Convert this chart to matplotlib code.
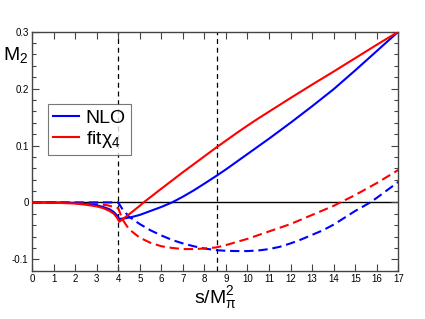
import matplotlib
matplotlib.use("Agg")
import matplotlib.pyplot as plt
from matplotlib.ticker import MultipleLocator

plt.rcParams['font.family'] = ['Liberation Sans', 'DejaVu Sans']
plt.rcParams['mathtext.fontset'] = 'custom'
plt.rcParams['mathtext.rm'] = 'Liberation Sans'
plt.rcParams['mathtext.it'] = 'Liberation Sans'

# NLO solid
s_nlo = [0, 1, 2, 2.5, 3, 3.3, 3.6, 3.8, 3.95, 4.05, 4.3, 4.6, 5, 5.5, 6, 6.5, 7, 7.5, 8, 8.57, 9, 10, 11, 12, 13, 14, 15, 16, 17]
m_nlo = [0, 0, -0.001, -0.003, -0.005, -0.008, -0.012, -0.017, -0.023, -0.029, -0.028, -0.026, -0.022, -0.015, -0.008, 0, 0.01, 0.021, 0.033, 0.047, 0.058, 0.085, 0.112, 0.140, 0.169, 0.199, 0.232, 0.266, 0.3]
# fit chi4 solid
s_fit = [0, 1, 2, 2.5, 3, 3.3, 3.6, 3.8, 3.95, 4.05, 4.5, 5, 5.18, 6, 7, 8, 8.57, 9, 9.5, 10, 10.5, 11, 12, 13, 14, 15, 16, 17]
m_fit = [0, -0.0005, -0.002, -0.004, -0.007, -0.01, -0.015, -0.02, -0.027, -0.034, -0.021, -0.006, 0, 0.024, 0.053, 0.081, 0.097, 0.1085, 0.122, 0.135, 0.1475, 0.1595, 0.1835, 0.207, 0.230, 0.2535, 0.277, 0.3]
# NLO dashed
s_nlo_d = [0, 4, 4.2, 4.5, 5, 5.5, 6, 6.5, 7, 7.5, 8, 8.57, 9, 9.5, 10, 10.5, 11, 11.5, 12, 12.5, 13, 13.5, 14, 14.5, 15, 15.7, 16, 16.5, 17]
m_nlo_d = [0, 0, -0.012, -0.025, -0.038, -0.049, -0.058, -0.066, -0.072, -0.077, -0.081, -0.084, -0.085, -0.0855, -0.0855, -0.0845, -0.082, -0.078, -0.072, -0.065, -0.057, -0.049, -0.039, -0.027, -0.015, 0, 0.008, 0.022, 0.036]
# fit chi4 dashed
s_fit_d = [0, 1, 2, 3, 3.5, 4, 4.2, 4.5, 5, 5.5, 6, 6.5, 7, 7.5, 8, 8.57, 9, 10, 11, 12, 13, 14, 14.31, 15, 16, 17]
m_fit_d = [0, -0.0005, -0.001, -0.003, -0.005, -0.01, -0.03, -0.047, -0.062, -0.071, -0.077, -0.080, -0.082, -0.082, -0.081, -0.079, -0.075, -0.064, -0.051, -0.038, -0.022, -0.006, 0, 0.013, 0.034, 0.057]

thresholds = [4, 8.57]
xticks = list(range(0, 18))
yticks = [-0.1, 0, 0.1, 0.2, 0.3]
ytick_labels = ['-0.1', '0', '0.1', '0.2', '0.3']

W, H = 425, 319
fig = plt.figure(figsize=(W / 100, H / 100), dpi=100)
ax = fig.add_axes([32 / W, 1 - 270.7 / H, (398.3 - 32) / W, (270.7 - 31.7) / H])

ax.axhline(0, color='black', lw=1.0, zorder=1)
for t in thresholds:
    ax.axvline(t, color='black', lw=0.9, dashes=(4, 3), zorder=1)

ax.plot(s_nlo_d, m_nlo_d, color='#0000ff', lw=1.5, dashes=(4.5, 2.3), zorder=2)
ax.plot(s_fit_d, m_fit_d, color='#ff0000', lw=1.5, dashes=(4.5, 2.3), zorder=2)
l1, = ax.plot(s_nlo, m_nlo, color='#0000ff', lw=1.5, zorder=3)
l2, = ax.plot(s_fit, m_fit, color='#ff0000', lw=1.5, zorder=3)

ax.set_xlim(0, 17)
ax.set_ylim(-0.12, 0.3)
ax.set_xticks(xticks)
ax.set_xticklabels([str(v) for v in xticks])
ax.set_yticks(yticks)
ax.set_yticklabels(ytick_labels)
ax.yaxis.set_minor_locator(MultipleLocator(0.02))
ax.tick_params(which='both', direction='in', top=True, right=True, colors='#444444',
               labelcolor='black', labelsize=7, width=0.8)
ax.tick_params(which='major', length=5, pad=2.5)
ax.tick_params(which='minor', length=3)
for sp in ax.spines.values():
    sp.set_color('#444444')
    sp.set_linewidth(1.0)

leg = ax.legend([l1, l2], ['NLO', 'fitχ$_4$'], loc='upper left',
                bbox_to_anchor=(47.7 / W, 1 - 104.3 / H), bbox_transform=fig.transFigure,
                fontsize=14, frameon=True, fancybox=False, handlelength=1.35,
                handletextpad=0.35, borderpad=0.25, labelspacing=0.1, borderaxespad=0)
leg.get_frame().set_edgecolor('#555555')
leg.get_frame().set_linewidth(0.8)

fig.text(3 / W, 1 - 55 / H, 'M$_2$', fontsize=14, ha='left', va='center')
fig.text(215 / W, 1 - 298 / H, 's/M$_\\mathrm{π}^2$', fontsize=14, ha='center', va='center')

fig.savefig('out.png', dpi=100)
